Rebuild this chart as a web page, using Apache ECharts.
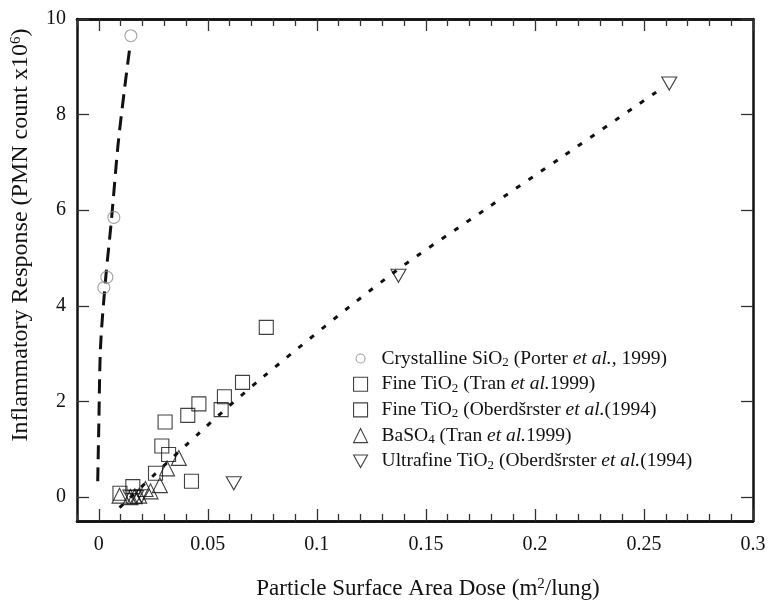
<!DOCTYPE html>
<html><head><meta charset="utf-8">
<script src="https://cdn.jsdelivr.net/npm/echarts@6/dist/echarts.min.js"></script>
<style>html,body{margin:0;padding:0;background:#fff}#c{width:770px;height:600px}</style>
</head><body><div id="c"></div>
<script>
// ---- data (x: m2/lung, y: PMN count x10^6) ----
const sio2 = [[0.0023,4.38],[0.0037,4.60],[0.0069,5.85],[0.0147,9.65]];
const fineTiO2Tran = [[0.0097,0.08],[0.0156,0.22],[0.026,0.50],[0.0289,1.07],[0.032,0.89],[0.0304,1.57],[0.0408,1.71],[0.0459,1.95],[0.0576,2.10],[0.0659,2.40]];
const fineTiO2Ober = [[0.0425,0.33],[0.0561,1.83],[0.0768,3.55]];
const baso4 = [[0.0095,0.03],[0.0145,0.00],[0.0165,0.02],[0.0185,0.03],[0.0214,0.17],[0.0237,0.12],[0.028,0.25],[0.0313,0.60],[0.0367,0.82]];
const ultrafineTiO2 = [[0.0145,0.01],[0.0171,0.00],[0.0196,0.02],[0.0619,0.29],[0.1374,4.63],[0.2616,8.65]];
// fitted curves
const fitSiO2X = [-0.0005,0,0.0008,0.003,0.0058,0.0088,0.0118,0.0142];
const fitSiO2Y = [0.33,1.5,3.15,4.5,5.8,7.36,8.54,9.4];
const fitOtherX = [0.0095,0.046,0.075,0.133,0.177,0.2126,0.2556];
const fitOtherY = [-0.22,1.34,2.5,4.62,6.01,7.12,8.47];
// ticks
const xTickValues = [0,0.05,0.1,0.15,0.2,0.25,0.3];
const xTickLabels = ['0','0.05','0.1','0.15','0.2','0.25','0.3'];
const yTickValues = [0,2,4,6,8,10];
const yTickLabels = ['0','2','4','6','8','10'];
const seriesNames = ['s1','s2','s3','s4','s5'];
const legendLabels = [
  'Crystalline SiO{sub|2} (Porter {it|et al.,} 1999)',
  'Fine TiO{sub|2} (Tran {it|et al.}1999)',
  'Fine TiO{sub|2} (Oberdšrster {it|et al.}(1994)',
  'BaSO{sub|4} (Tran {it|et al.}1999)',
  'Ultrafine TiO{sub|2} (Oberdšrster {it|et al.}(1994)'
];

const FONT = 'Liberation Serif';
const xMinor = [];
for (let i = -1; i <= 30; i++) { if (i % 5 !== 0) xMinor.push(i / 100); }
const pair = (xs, ys) => xs.map((x, i) => [x, ys[i]]);
const lab = (vals, labs) => v => { const i = vals.findIndex(t => Math.abs(t - v) < 1e-9); return i < 0 ? '' : labs[i]; };

const axisLine = {show:true, onZero:false, lineStyle:{color:'#111', width:2.5}};
const tickStyle = {color:'#333', width:1.3};
const baseX = {type:'value', min:-0.01, max:0.3, splitLine:{show:false}};
const baseY = {type:'value', min:-0.5, max:10, splitLine:{show:false}};
const downTri = 'path://M0,0L20,0L10,18Z';
const smallCircle = 'path://M0,0M14,14M7,2.5A4.5,4.5,0,1,1,6.99,2.5Z';
const hollow = c => ({color:'rgba(0,0,0,0)', borderColor:c, borderWidth:1.1});
const gridBox = {left:77, right:17, top:19, bottom:79, outerBoundsMode:'none', containLabel:false};

const chart = echarts.init(document.getElementById('c'));
chart.setOption({
  animation:false,
  backgroundColor:'#fff',
  grid:[Object.assign({}, gridBox), Object.assign({}, gridBox)],
  xAxis:[
    Object.assign({}, baseX, {gridIndex:0, position:'bottom', axisLine:axisLine,
      axisTick:{inside:true, length:12, customValues:xTickValues, lineStyle:tickStyle},
      axisLabel:{customValues:xTickValues, formatter:lab(xTickValues, xTickLabels), margin:14, fontSize:20, fontFamily:FONT, color:'#111'},
      name:'Particle Surface Area Dose (m{sup|2}/lung)', nameLocation:'middle', nameGap:56,
      nameTextStyle:{fontFamily:FONT, fontSize:23, color:'#111', padding:[0,0,0,26],
        rich:{sup:{fontFamily:FONT, fontSize:15, color:'#111', padding:[0,0,9,0]}}}}),
    Object.assign({}, baseX, {gridIndex:0, position:'top', axisLine:axisLine,
      axisTick:{inside:true, length:12, customValues:xTickValues, lineStyle:tickStyle}, axisLabel:{show:false}}),
    Object.assign({}, baseX, {gridIndex:1, position:'bottom', axisLine:axisLine,
      axisTick:{show:true, inside:true, length:7, customValues:xMinor, lineStyle:tickStyle}, axisLabel:{show:false}}),
    Object.assign({}, baseX, {gridIndex:1, position:'top', axisLine:axisLine,
      axisTick:{show:true, inside:true, length:7, customValues:xMinor, lineStyle:tickStyle}, axisLabel:{show:false}})
  ],
  yAxis:[
    Object.assign({}, baseY, {gridIndex:0, position:'left', axisLine:axisLine,
      axisTick:{inside:true, length:12, customValues:yTickValues, lineStyle:tickStyle},
      axisLabel:{customValues:yTickValues, formatter:lab(yTickValues, yTickLabels), margin:11, fontSize:20, fontFamily:FONT, color:'#111'},
      name:'Inflammatory Response (PMN count x10{sup|6})', nameLocation:'middle', nameGap:44, nameRotate:90,
      nameTextStyle:{fontFamily:FONT, fontSize:24, color:'#111', padding:[0,0,0,70],
        rich:{sup:{fontFamily:FONT, fontSize:15, color:'#111', padding:[0,0,9,0]}}}}),
    Object.assign({}, baseY, {gridIndex:0, position:'right', axisLine:axisLine,
      axisTick:{inside:true, length:12, customValues:yTickValues, lineStyle:tickStyle}, axisLabel:{show:false}}),
    Object.assign({}, baseY, {gridIndex:1, show:false})
  ],
  legend:{
    orient:'vertical', left:348, top:342.5, itemWidth:14, itemHeight:14, itemGap:3.7,
    data:[
      {name:seriesNames[0], icon:smallCircle, itemStyle:hollow('#888')},
      {name:seriesNames[1], icon:'rect', itemStyle:hollow('#111')},
      {name:seriesNames[2], icon:'rect', itemStyle:hollow('#111')},
      {name:seriesNames[3], icon:'triangle', itemStyle:hollow('#111')},
      {name:seriesNames[4], icon:downTri, itemStyle:hollow('#111')}
    ],
    formatter: n => legendLabels[seriesNames.indexOf(n)],
    textStyle:{fontFamily:FONT, fontSize:19.5, color:'#111', lineHeight:22, padding:[0,0,0,9],
      rich:{
        sub:{fontFamily:FONT, fontSize:13, color:'#111', padding:[8,0,0,0]},
        it:{fontFamily:FONT, fontSize:19.5, fontStyle:'italic', color:'#111'}
      }}
  },
  series:[
    {name:'fitA', type:'line', data:pair(fitSiO2X, fitSiO2Y), symbol:'none', smooth:0.3, silent:true,
      lineStyle:{color:'#111', width:3, type:[14,8]}, z:1},
    {name:'fitB', type:'line', data:pair(fitOtherX, fitOtherY), symbol:'none', smooth:0.3, silent:true,
      lineStyle:{color:'#111', width:3, type:[5,10]}, z:1},
    {name:seriesNames[0], type:'scatter', data:sio2, symbol:'circle', symbolSize:12, itemStyle:hollow('#888')},
    {name:seriesNames[1], type:'scatter', data:fineTiO2Tran, symbol:'rect', symbolSize:14, itemStyle:hollow('#111')},
    {name:seriesNames[2], type:'scatter', data:fineTiO2Ober, symbol:'rect', symbolSize:14, itemStyle:hollow('#111')},
    {name:seriesNames[3], type:'scatter', data:baso4, symbol:'triangle', symbolSize:15, itemStyle:hollow('#111')},
    {name:seriesNames[4], type:'scatter', data:ultrafineTiO2, symbol:downTri, symbolSize:[15,13], itemStyle:hollow('#111')}
  ]
});
</script></body></html>
